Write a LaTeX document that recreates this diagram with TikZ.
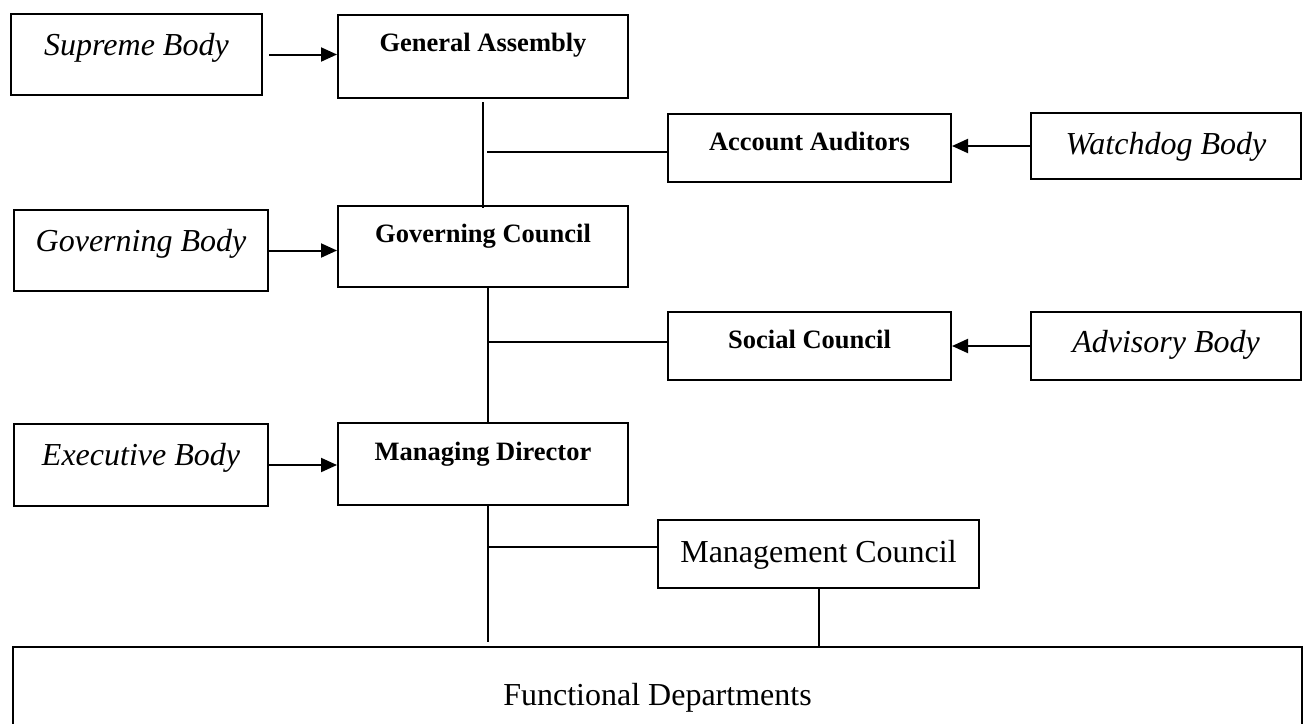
\documentclass[tikz,border=0pt]{standalone}
\usepackage{fontspec}
\setmainfont{Liberation Serif}
\usetikzlibrary{arrows.meta,calc}
\tikzset{
  flow/.style={-{Triangle[length=8pt,width=7pt]},line width=1pt},
  link/.style={line width=1pt},
  bodybox/.style={draw,line width=1pt,inner sep=0pt,anchor=north west,
    font=\fontsize{16pt}{18pt}\selectfont\itshape,text height=20.5pt},
  unitbox/.style={draw,line width=1pt,inner sep=0pt,anchor=north west,
    font=\fontsize{13.25pt}{15pt}\selectfont\bfseries,text height=18pt},
  plainbox/.style={draw,line width=1pt,inner sep=0pt,anchor=north west,
    font=\fontsize{16pt}{18pt}\selectfont}
}

\begin{document}
\begin{tikzpicture}[x=0.5pt,y=-0.5pt]
  \useasboundingbox[fill=white] (0,0) rectangle (1304,723);
  % left column: the kind of body
  \node[bodybox,minimum width=125.5pt,text depth=20pt] (supreme) at (10,13) {Supreme Body};
  \node[bodybox,minimum width=127pt,text depth=20pt] (governing) at (13,209) {Governing Body};
  \node[bodybox,minimum width=127pt,text depth=20.5pt] (executive) at (13,423) {Executive Body};
  % main column
  \node[unitbox,minimum width=145pt,text depth=23.5pt] (assembly) at (337,14) {General Assembly};
  \node[unitbox,minimum width=145pt,text depth=22.5pt] (council) at (337,205) {Governing Council};
  \node[unitbox,minimum width=145pt,text height=18.5pt,text depth=22.5pt] (director) at (337,422) {Managing Director};
  % side organs
  \node[unitbox,minimum width=141.5pt,text depth=16pt] (auditors) at (667,113) {Account Auditors};
  \node[unitbox,minimum width=141.5pt,text depth=16pt] (social) at (667,311) {Social Council};
  \node[bodybox,minimum width=135pt,text depth=12.5pt] (watchdog) at (1030,112) {Watchdog Body};
  \node[bodybox,minimum width=135pt,text height=20pt,text depth=14pt] (advisory) at (1030,311) {Advisory Body};
  \node[plainbox,minimum width=160.5pt,text height=21pt,text depth=13pt] (mgmt) at (657,519) {Management Council};
  \node[plainbox,minimum width=644.5pt,text height=29pt,text depth=28pt] (depts) at (12,646) {Functional Departments};

  % body -> organ
  \draw[flow] ([xshift=3pt]supreme.east) -- (supreme.east -| assembly.west);
  \draw[flow] (governing.east) -- (governing.east -| council.west);
  \draw[flow] (executive.east) -- (executive.east -| director.west);
  \draw[flow] (watchdog.west) -- (watchdog.west -| auditors.east);
  \draw[flow] (advisory.west) -- (advisory.west -| social.east);

  % vertical chain with branches
  \coordinate (j1) at (487,152);
  \coordinate (j2) at (487,342);
  \coordinate (j3) at (487,547);
  \draw[link] ([yshift=-1.5pt]assembly.south) -- ([yshift=-1.5pt]council.north);
  \draw[link] (j1) -- (j1 -| auditors.west);
  \draw[link] ([xshift=2.5pt]council.south) -- ([xshift=2.5pt]director.north);
  \draw[link] (j2) -- (j2 -| social.west);
  \draw[link] ([xshift=2.5pt]director.south) -- ([xshift=2.5pt,yshift=2pt]director.south |- depts.north);
  \draw[link] (j3) -- (j3 -| mgmt.west);
  \draw[link] (mgmt.south) -- (mgmt.south |- depts.north);
\end{tikzpicture}
\end{document}
